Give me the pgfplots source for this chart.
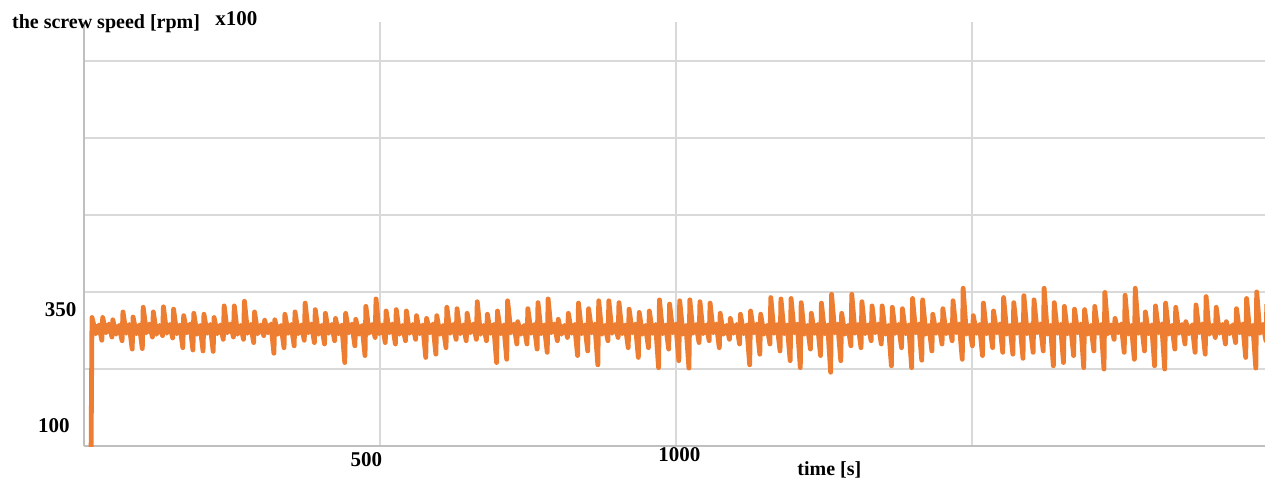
\documentclass[border=0pt]{standalone}
\usepackage{fontspec}
\setmainfont{Liberation Serif}
\usepackage{pgfplots}
\pgfplotsset{compat=1.18}
\definecolor{lineorange}{RGB}{237,125,49}
\definecolor{gridgray}{RGB}{217,217,217}
\definecolor{axisgray}{RGB}{191,191,191}
\begin{document}
\begin{tikzpicture}
\useasboundingbox (-42pt,-16.5pt) rectangle (590.5pt,223pt);
\begin{axis}[
  scale only axis, width=590.5pt, height=212pt,
  xmin=0, xmax=1995, ymin=59.1, ymax=972.8,
  axis lines=left,
  axis line style={-, draw=axisgray, line width=1pt},
  major tick length=0pt,
  grid=major,
  major grid style={draw=gridgray, line width=1pt},
  xtick={500,1000,1500},
  xticklabels={{\hbox{\raisebox{-2.5pt}{500}\hskip13.5pt}},{\hbox{\hskip3.5pt 1000}},{}},
  xticklabel style={anchor=base, inner sep=0pt, yshift=-7.85pt, font=\fontsize{10.5}{12}\selectfont\bfseries},
  ytick={225.0,390.9,556.9,722.8,888.8},
  yticklabels={,,,,},
  yticklabel style={anchor=base east, inner sep=0pt, xshift=-3.65pt, yshift=-2.9pt, font=\fontsize{10.5}{12}\selectfont\bfseries},
  extra y ticks={100,350},
  extra y tick labels={{\hbox{100\hskip3.35pt}},{350}},
  extra y tick style={grid=none},
]
\addplot[color=lineorange, line width=2.4pt, line join=round, no marks] table {
t v
12.0 50
13.5 336
20.0 301
25.0 320
30.1 287
31.6 336
37.1 303
42.1 322
47.2 294
48.7 331
54.2 300
59.2 319
64.3 286
65.8 348
71.3 302
76.3 321
81.4 268
82.9 337
88.4 301
93.4 320
98.5 269
100.0 358
105.5 303
110.5 322
115.6 294
117.1 348
122.6 300
127.6 319
132.7 297
134.2 359
139.7 302
144.7 321
149.8 292
151.3 354
156.8 301
161.8 320
166.9 271
168.4 340
173.9 303
178.9 322
184.0 266
185.5 345
191.0 300
196.0 319
201.1 264
202.6 343
208.1 302
213.1 321
218.2 263
219.7 336
225.2 301
230.2 320
235.3 289
236.8 361
242.3 303
247.3 322
252.4 294
253.9 361
259.4 300
264.4 319
269.5 289
271.0 371
276.5 302
281.5 321
286.6 282
288.1 348
293.6 301
298.6 320
303.7 297
305.2 330
310.7 303
315.7 322
320.8 259
322.3 331
327.8 300
332.8 319
337.9 271
339.4 343
344.9 302
349.9 321
355.0 275
356.5 348
362.0 301
367.0 320
372.1 287
373.6 367
379.1 303
384.1 322
389.2 282
390.7 353
396.2 300
401.2 319
406.3 279
407.8 345
413.3 302
418.3 321
423.4 286
424.9 334
430.4 301
435.4 320
440.5 239
442.0 345
447.5 303
452.5 322
457.6 275
459.1 332
464.6 300
469.6 319
474.7 254
476.2 360
481.7 302
486.7 321
491.8 293
493.3 376
498.8 301
503.8 320
508.9 282
510.4 350
515.9 303
520.9 322
526.0 279
527.5 353
533.0 300
538.0 319
543.1 286
544.6 350
550.1 302
555.1 321
560.2 289
561.7 340
567.2 301
572.2 320
577.3 250
578.8 334
584.3 303
589.3 322
594.4 257
595.9 340
601.4 300
606.4 319
611.5 271
613.0 358
618.5 302
623.5 321
628.6 289
630.1 355
635.6 301
640.6 320
645.7 286
647.2 345
652.7 303
657.7 322
662.8 289
664.3 370
669.8 300
674.8 319
679.9 286
681.4 343
686.9 302
691.9 321
697.0 239
698.5 350
704.0 301
709.0 320
714.1 246
715.6 372
721.1 303
726.1 322
731.2 279
732.7 327
738.2 300
743.2 319
748.3 279
749.8 355
755.3 302
760.3 321
765.4 268
766.9 368
772.4 301
777.4 320
782.5 261
784.0 376
789.5 303
794.5 322
799.6 286
801.1 332
806.6 300
811.6 319
816.7 293
818.2 345
823.7 302
828.7 321
833.8 254
835.3 367
840.8 301
845.8 320
850.9 264
852.4 355
857.9 303
862.9 322
868.0 234
869.5 372
875.0 300
880.0 319
885.1 286
886.6 372
892.1 302
897.1 321
902.2 293
903.7 368
909.2 301
914.2 320
919.3 271
920.8 354
926.3 303
931.3 322
936.4 250
937.9 347
943.4 300
948.4 319
953.5 271
955.0 350
960.5 302
965.5 321
970.6 228
972.1 374
977.6 301
982.6 320
987.7 268
989.2 365
994.7 303
999.7 322
1004.8 243
1006.3 372
1011.8 300
1016.8 319
1021.9 227
1023.4 374
1028.9 302
1033.9 321
1039.0 282
1040.5 370
1046.0 301
1051.0 320
1056.1 286
1057.6 367
1063.1 303
1068.1 322
1073.2 271
1074.7 345
1080.2 300
1085.2 319
1090.3 289
1091.8 334
1097.3 302
1102.3 321
1107.4 279
1108.9 343
1114.4 301
1119.4 320
1124.5 234
1126.0 350
1131.5 303
1136.5 322
1141.6 257
1143.1 343
1148.6 300
1153.6 319
1158.7 279
1160.2 379
1165.7 302
1170.7 321
1175.8 264
1177.3 376
1182.8 301
1187.8 320
1192.9 243
1194.4 377
1199.9 303
1204.9 322
1210.0 228
1211.5 368
1217.0 300
1222.0 319
1227.1 268
1228.6 345
1234.1 302
1239.1 321
1244.2 254
1245.7 367
1251.2 301
1256.2 320
1261.3 218
1262.8 386
1268.3 303
1273.3 322
1278.4 243
1279.9 345
1285.4 300
1290.4 319
1295.5 275
1297.0 386
1302.5 302
1307.5 321
1312.6 271
1314.1 370
1319.6 301
1324.6 320
1329.7 286
1331.2 361
1336.7 303
1341.7 322
1346.8 279
1348.3 361
1353.8 300
1358.8 319
1363.9 232
1365.4 358
1370.9 302
1375.9 321
1381.0 271
1382.5 355
1388.0 301
1393.0 320
1398.1 228
1399.6 377
1405.1 303
1410.1 322
1415.2 244
1416.7 374
1422.2 300
1427.2 319
1432.3 264
1433.8 343
1439.3 302
1444.3 321
1449.4 279
1450.9 355
1456.4 301
1461.4 320
1466.5 286
1468.0 372
1473.5 303
1478.5 322
1483.6 246
1485.1 399
1490.6 300
1495.6 319
1500.7 275
1502.2 340
1507.7 302
1512.7 321
1517.8 254
1519.3 367
1524.8 301
1529.8 320
1534.9 271
1536.4 350
1541.9 303
1546.9 322
1552.0 261
1553.5 379
1559.0 300
1564.0 319
1569.1 257
1570.6 368
1576.1 302
1581.1 321
1586.2 248
1587.7 383
1593.2 301
1598.2 320
1603.3 261
1604.8 374
1610.3 303
1615.3 322
1620.4 264
1621.9 399
1627.4 300
1632.4 319
1637.5 232
1639.0 368
1644.5 302
1649.5 321
1654.6 239
1656.1 360
1661.6 301
1666.6 320
1671.7 254
1673.2 354
1678.7 303
1683.7 322
1688.8 228
1690.3 353
1695.8 300
1700.8 319
1705.9 264
1707.4 360
1712.9 302
1717.9 321
1723.0 225
1724.5 390
1730.0 301
1735.0 320
1740.1 289
1741.6 334
1747.1 303
1752.1 322
1757.2 261
1758.7 384
1764.2 300
1769.2 319
1774.3 246
1775.8 399
1781.3 302
1786.3 321
1791.4 264
1792.9 348
1798.4 301
1803.4 320
1808.5 232
1810.0 361
1815.5 303
1820.5 322
1825.6 225
1827.1 367
1832.6 300
1837.6 319
1842.7 268
1844.2 358
1849.7 302
1854.7 321
1859.8 279
1861.3 327
1866.8 301
1871.8 320
1876.9 261
1878.4 363
1883.9 303
1888.9 322
1894.0 257
1895.5 381
1901.0 300
1906.0 319
1911.1 293
1912.6 358
1918.1 302
1923.1 321
1928.2 279
1929.7 327
1935.2 301
1940.2 320
1945.3 282
1946.8 355
1952.3 303
1957.3 322
1962.4 250
1963.9 377
1969.4 300
1974.4 319
1979.5 227
1981.0 391
1986.5 302
1991.5 321
1996.6 286
1998.1 365
};
\end{axis}
\node[anchor=base west, inner sep=0pt, font=\fontsize{10}{12}\selectfont\bfseries] at (-36.15pt,208.85pt) {the screw speed [rpm]};
\node[anchor=base west, inner sep=0pt, font=\fontsize{10.5}{12}\selectfont\bfseries] at (65.5pt,210.5pt) {x100};
\node[anchor=base west, inner sep=0pt, font=\fontsize{10}{12}\selectfont\bfseries] at (356.5pt,-14.5pt) {time [s]};
\end{tikzpicture}
\end{document}
